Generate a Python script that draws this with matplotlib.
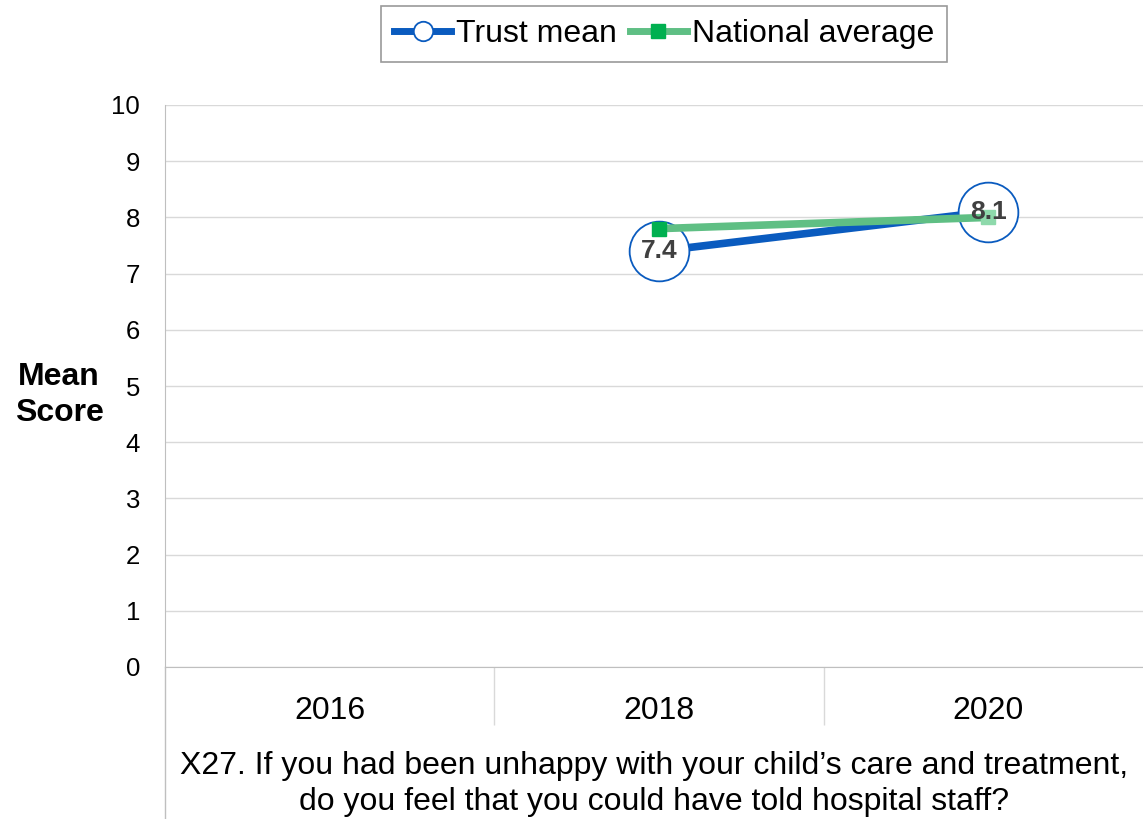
import matplotlib.pyplot as plt
from matplotlib.lines import Line2D

plt.rcParams['font.family'] = ['Liberation Sans', 'DejaVu Sans']

years = ['2016', '2018', '2020']
trust_x = [1, 2]
trust_mean = [7.4, 8.1]
national_x = [1, 2]
national_avg = [7.8, 8.0]
question = ("X27. If you had been unhappy with your child\u2019s care and treatment,\n"
            "do you feel that you could have told hospital staff?")

W, H = 1143, 819
fig = plt.figure(figsize=(W / 100, H / 100), dpi=100)
ax = fig.add_axes([165 / W, 1 - 667 / H, (1143 - 165) / W, (667 - 105) / H])

blue = '#0A5BBF'
green = '#5FBF84'
grid = '#D9D9D9'
axis_grey = '#BFBFBF'

# trust mean: thick blue line with big open circles
ax.plot(trust_x, trust_mean, color=blue, lw=5.5, solid_capstyle='butt', zorder=3)
ax.plot(trust_x, trust_mean, ls='none', marker='o', ms=43, mfc='white',
        mec=blue, mew=1.3, zorder=4)

# national average: green line with square markers
ax.plot(national_x, national_avg, color=green, lw=5.5, solid_capstyle='butt', zorder=5)
ax.plot(national_x[:1], national_avg[:1], ls='none', marker='s', ms=10,
        mfc='#00B050', mec='#00B050', zorder=6)
ax.plot(national_x[1:], national_avg[1:], ls='none', marker='s', ms=10,
        mfc='#8ED9AB', mec='#8ED9AB', zorder=6)

for x, v in zip(trust_x, trust_mean):
    ax.text(x, v, f'{v:.1f}', ha='center', va='center', fontsize=19,
            fontweight='bold', color='#404040', zorder=7)

ax.set_ylim(0, 10)
ax.set_yticks(range(0, 11))
ax.yaxis.grid(True, color=grid, lw=1)
ax.set_axisbelow(True)
ax.tick_params(axis='y', length=0, labelsize=18.5, pad=18)

ax.set_xlim(-0.5, 2.47)
ax.set_xticks(range(len(years)))
ax.set_xticklabels(years)
ax.set_xticks([0.5, 1.5], minor=True)
ax.tick_params(axis='x', which='major', length=0, labelsize=23, pad=21)
ax.tick_params(axis='x', which='minor', length=42, width=1, color=grid, direction='out')

for side in ['top', 'right']:
    ax.spines[side].set_visible(False)
ax.spines['left'].set_color(axis_grey)
ax.spines['bottom'].set_color(axis_grey)

# left axis line runs down through the category labels
fig.add_artist(Line2D([165 / W, 165 / W], [0, 1 - 667 / H], color=axis_grey, lw=1))

ax.set_xlabel(question, fontsize=23, labelpad=15, linespacing=1.25)
fig.text(59 / W, 1 - 395 / H, 'Mean\nScore', ha='center', va='center',
         fontsize=23, fontweight='bold', linespacing=1.3)

handles = [
    Line2D([], [], color=blue, lw=5, marker='o', ms=14, mfc='white', mec=blue, mew=1.3),
    Line2D([], [], color=green, lw=5, marker='s', ms=10, mfc='#00B050', mec='#00B050'),
]
leg = fig.legend(handles, ['Trust mean', 'National average'], loc='center',
                 bbox_to_anchor=(664 / W, 1 - 34 / H), ncol=2, fontsize=23,
                 frameon=True, fancybox=False, edgecolor='#808080', borderpad=0.4,
                 handlelength=1.8, handletextpad=0.15, columnspacing=0.4,
                 borderaxespad=0)
leg.get_frame().set_linewidth(1.2)

fig.savefig('out.png', dpi=100)
